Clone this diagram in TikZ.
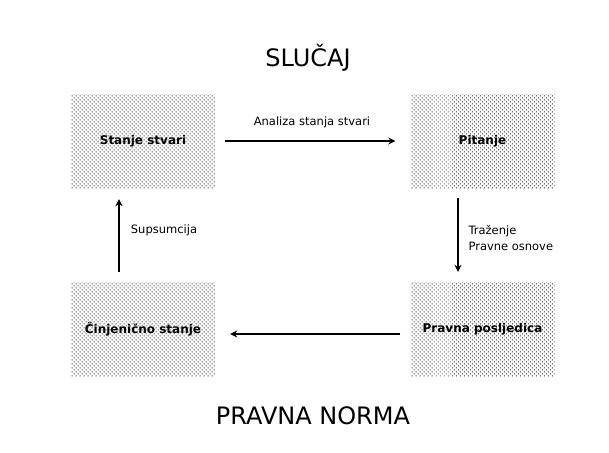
\documentclass[tikz,border=0pt]{standalone}
\usepackage{fontspec}
\setmainfont{DejaVu Sans}
\usetikzlibrary{arrows.meta, positioning, patterns.meta}

\tikzset{
    korak/.style={minimum width=144pt, minimum height=94pt, inner sep=0pt,
        pattern={Dots[angle=45, distance=2.83pt, radius=0.7pt]}, pattern color=black!85,
        font=\fontsize{12}{14}\selectfont\bfseries},
    strelica/.style={line width=1.5pt, -{Stealth[length=7pt, width=7pt]}},
    opis/.style={font=\fontsize{11.5}{16}\selectfont, align=left},
    naslov/.style={font=\fontsize{24}{28}\selectfont}
}

\begin{document}
\begin{tikzpicture}[x=1pt, y=-1pt]
        \useasboundingbox (0,0) rectangle (609,452);

        % Titles
        \node[naslov] (slucaj) at (308,57.5) {SLUČAJ};
        \node[naslov] (norma) at (313,415.5) {PRAVNA NORMA};

        % Boxes
        \node[korak] (stanje) at (143,141) {Stanje stvari};
        \node[korak] (pitanje) at (482.5,141) {Pitanje};
        \node[korak] (cinjenicno) at (143,329) {Činjenično stanje};
        \node[korak] (posljedica) at (482.5,329) {Pravna posljedica};

        % Arrows
        \draw[strelica, shorten <=10pt, shorten >=15pt] (stanje.east) -- (pitanje.west);
        \draw[strelica, shorten <=10pt, shorten >=10pt] ([xshift=-24.5pt]pitanje.south) -- ([xshift=-24.5pt]posljedica.north);
        \draw[strelica, shorten <=10pt, shorten >=15pt] ([yshift=-5pt]posljedica.west) -- ([yshift=-5pt]cinjenicno.east);
        \draw[strelica, shorten <=10pt, shorten >=11pt] ([xshift=-24pt]cinjenicno.north) -- ([xshift=-24pt]stanje.south);

        % Arrow labels
        \node[opis] (analiza) at (312,122) {Analiza stanja stvari};
        \node[opis, anchor=west] (trazenje) at (465,237.5) {Traženje\\Pravne osnove};
        \node[opis] (supsumcija) at (164,230) {Supsumcija};

    \end{tikzpicture}
\end{document}
